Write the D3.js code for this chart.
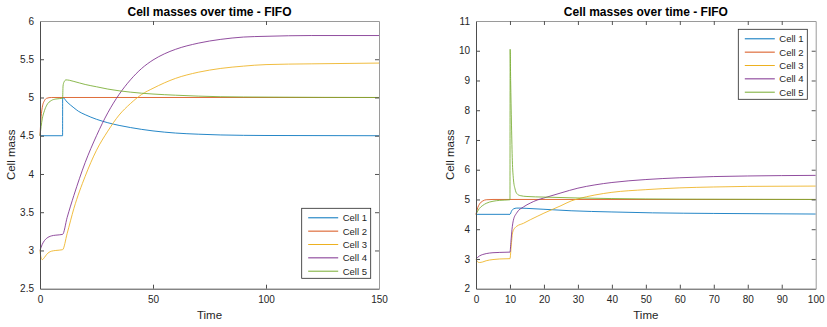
<!DOCTYPE html>
<html>
<head>
<meta charset="utf-8">
<script src="https://cdn.jsdelivr.net/npm/d3@7"></script>
<style>
  body { margin: 0; background: #fff; }
  svg { display: block; font-family: "Liberation Sans", Arial, sans-serif; }
</style>
</head>
<body>
<div id="chart"></div>
<script>
// series names and colours (MATLAB default order)
const cellNames = ['Cell 1', 'Cell 2', 'Cell 3', 'Cell 4', 'Cell 5'];
const cellColors = ['#0072BD', '#D95319', '#EDB120', '#7E2F8E', '#77AC30'];

// left panel: [time, mass]
const leftCell1 = [[0,4.5],[10,4.5],[10.02,5.0],[12,4.94],[15,4.865],[17,4.82],[20,4.775],[25,4.715],[30,4.67],[35,4.635],[40,4.607],[50,4.563],[60,4.535],[70,4.52],[80,4.51],[100,4.503],[150,4.5]];
const leftCell2 = [[0,4.5],[0.5,4.75],[1,4.87],[2,4.96],[3,4.99],[5,5.0],[150,5.0]];
const leftCell3 = [[0,3.0],[0.5,2.9],[1,2.88],[2,2.91],[3,2.95],[5,2.99],[7,3.0],[10,3.01],[12,3.22],[15,3.55],[20,3.97],[25,4.31],[30,4.56],[35,4.77],[40,4.92],[45,5.04],[50,5.12],[60,5.25],[70,5.33],[80,5.38],[90,5.41],[100,5.43],[120,5.44],[150,5.45]];
const leftCell4 = [[0,3.0],[1,3.08],[2,3.13],[3,3.16],[5,3.19],[7,3.2],[10,3.21],[12,3.43],[15,3.72],[20,4.15],[25,4.50],[30,4.80],[35,5.04],[40,5.23],[45,5.38],[50,5.49],[55,5.57],[60,5.63],[70,5.71],[80,5.76],[90,5.79],[100,5.80],[120,5.81],[150,5.81]];
const leftCell5 = [[0,4.5],[1,4.72],[2,4.83],[3,4.9],[5,4.96],[7,4.98],[10,4.99],[10.2,5.15],[10.6,5.2],[11.5,5.23],[13,5.225],[15,5.21],[20,5.17],[25,5.14],[30,5.11],[40,5.07],[50,5.045],[60,5.03],[80,5.01],[100,5.005],[150,5.0]];

// right panel: [time, mass]
const rightCell1 = [[0,4.5],[10,4.5],[10.5,4.62],[11,4.68],[12,4.71],[13,4.71],[15,4.70],[20,4.67],[28,4.62],[40,4.58],[52,4.55],[70,4.53],[100,4.51]];
const rightCell2 = [[0,4.5],[0.5,4.72],[1,4.84],[2,4.95],[3,4.99],[5,5.0],[100,5.0]];
const rightCell3 = [[0,3.0],[0.5,2.9],[1,2.88],[2,2.9],[3,2.94],[5,2.98],[7,3.0],[10,3.01],[10.4,3.5],[10.8,3.9],[11.5,4.05],[12,4.1],[14,4.2],[16,4.32],[18,4.43],[20,4.54],[25,4.79],[28,4.95],[30,5.02],[35,5.15],[40,5.24],[50,5.33],[60,5.39],[70,5.42],[80,5.44],[100,5.45]];
const rightCell4 = [[0,3.0],[1,3.1],[2,3.15],[3,3.18],[5,3.21],[7,3.22],[10,3.23],[10.3,3.6],[10.6,4.0],[11,4.3],[12,4.55],[14,4.75],[16,4.88],[18,4.98],[20,5.05],[25,5.22],[30,5.38],[35,5.49],[40,5.57],[50,5.67],[60,5.73],[70,5.77],[80,5.79],[100,5.81]];
const rightCell5 = [[0,4.5],[1,4.7],[2,4.8],[3,4.87],[5,4.94],[7,4.97],[10,4.99],[10.05,10.05],[10.2,9.0],[10.45,7.5],[10.7,6.3],[11,5.7],[11.5,5.35],[12,5.2],[13,5.13],[15,5.1],[20,5.08],[30,5.05],[40,5.03],[60,5.01],[100,5.0]];

// ticks
const leftXTicks = [0, 50, 100, 150];
const leftYTicks = [2.5, 3, 3.5, 4, 4.5, 5, 5.5, 6];
const rightXTicks = [0, 10, 20, 30, 40, 50, 60, 70, 80, 90, 100];
const rightYTicks = [2, 3, 4, 5, 6, 7, 8, 9, 10, 11];

const titleText = 'Cell masses over time - FIFO';
const xLabel = 'Time';
const yLabel = 'Cell mass';

const W = 827, H = 327;
const svg = d3.select('#chart').append('svg').attr('width', W).attr('height', H);

const panels = [
  { series: [leftCell1, leftCell2, leftCell3, leftCell4, leftCell5],
    xDomain: [0, 150], yDomain: [2.5, 6], xTicks: leftXTicks, yTicks: leftYTicks,
    box: { left: 40, right: 379, top: 21, bottom: 288.7 }, yLabelX: 11,
    legend: { x: 301.7, y: 208.3 } },
  { series: [rightCell1, rightCell2, rightCell3, rightCell4, rightCell5],
    xDomain: [0, 100], yDomain: [2, 11], xTicks: rightXTicks, yTicks: rightYTicks,
    box: { left: 476, right: 815.7, top: 21, bottom: 288.7 }, yLabelX: 450,
    legend: { x: 738.3, y: 29.3 } }
];

panels.forEach(p => drawPanel(p));

function drawPanel(p) {
  const b = p.box;
  const x = d3.scaleLinear().domain(p.xDomain).range([b.left, b.right]);
  const y = d3.scaleLinear().domain(p.yDomain).range([b.bottom, b.top]);
  const g = svg.append('g');

  // lines
  const line = d3.line()
    .x(d => x(d[0]))
    .y(d => y(d[1]))
    .curve(d3.curveMonotoneX);

  g.append('g')
    .selectAll('path')
    .data(p.series)
    .join('path')
      .attr('d', line)
      .attr('fill', 'none')
      .attr('stroke', (d, i) => cellColors[i])
      .attr('stroke-width', 1)
      .attr('stroke-opacity', 0.85);

  // axes, MATLAB style: inward ticks on all four sides
  const tickLen = 4;
  const axisColor = '#4d4d4d';
  const fmt = d => String(d);

  const bottom = g.append('g').attr('transform', `translate(0,${b.bottom})`)
    .call(d3.axisBottom(x).tickValues(p.xTicks).tickSize(-tickLen).tickPadding(7).tickFormat(fmt).tickSizeOuter(0));
  const top = g.append('g').attr('transform', `translate(0,${b.top})`)
    .call(d3.axisTop(x).tickValues(p.xTicks).tickSize(-tickLen).tickFormat('').tickSizeOuter(0));
  const left = g.append('g').attr('transform', `translate(${b.left},0)`)
    .call(d3.axisLeft(y).tickValues(p.yTicks).tickSize(-tickLen).tickPadding(6).tickFormat(fmt).tickSizeOuter(0));
  const right = g.append('g').attr('transform', `translate(${b.right},0)`)
    .call(d3.axisRight(y).tickValues(p.yTicks).tickSize(-tickLen).tickFormat('').tickSizeOuter(0));

  [bottom, left].forEach(a => {
    a.select('.domain').attr('stroke', axisColor);
    a.selectAll('.tick line').attr('stroke', axisColor);
    a.selectAll('.tick text').attr('fill', '#262626').style('font-size', '10px');
  });
  [top, right].forEach(a => {
    a.select('.domain').attr('stroke', '#9a9a9a');
    a.selectAll('.tick line').attr('stroke', '#555');
  });
  // skip the corner tick marks that sit on the frame
  g.selectAll('.tick').filter(d => d === p.xDomain[0] || d === p.xDomain[1] || d === p.yDomain[0] || d === p.yDomain[1])
    .select('line').attr('stroke-opacity', 0);

  // title + labels
  g.append('text')
    .attr('x', (b.left + b.right) / 2).attr('y', 15.5)
    .attr('text-anchor', 'middle')
    .style('font-size', '12px').style('font-weight', 'bold')
    .attr('fill', '#000')
    .text(titleText);

  g.append('text')
    .attr('x', (b.left + b.right) / 2).attr('y', 319)
    .attr('text-anchor', 'middle')
    .style('font-size', '11.5px').attr('fill', '#262626')
    .text(xLabel);

  g.append('text')
    .attr('transform', `translate(${p.yLabelX + 4},${(b.top + b.bottom) / 2}) rotate(-90)`)
    .attr('text-anchor', 'middle')
    .style('font-size', '11.5px').attr('fill', '#262626')
    .text(yLabel);

  // legend
  const lg = g.append('g').attr('transform', `translate(${p.legend.x},${p.legend.y})`);
  lg.append('rect')
    .attr('width', 69).attr('height', 70)
    .attr('fill', '#fff').attr('stroke', '#262626').attr('stroke-width', 0.8);
  const rows = lg.selectAll('g.row').data(cellNames).join('g')
    .attr('class', 'row')
    .attr('transform', (d, i) => `translate(0,${9.5 + i * 13.35})`);
  rows.append('line')
    .attr('x1', 6.5).attr('x2', 36.5)
    .attr('stroke', (d, i) => cellColors[i]).attr('stroke-width', 1);
  rows.append('text')
    .attr('x', 41).attr('y', 3.5)
    .style('font-size', '9.5px').attr('fill', '#262626')
    .text(d => d);
}
</script>
</body>
</html>
